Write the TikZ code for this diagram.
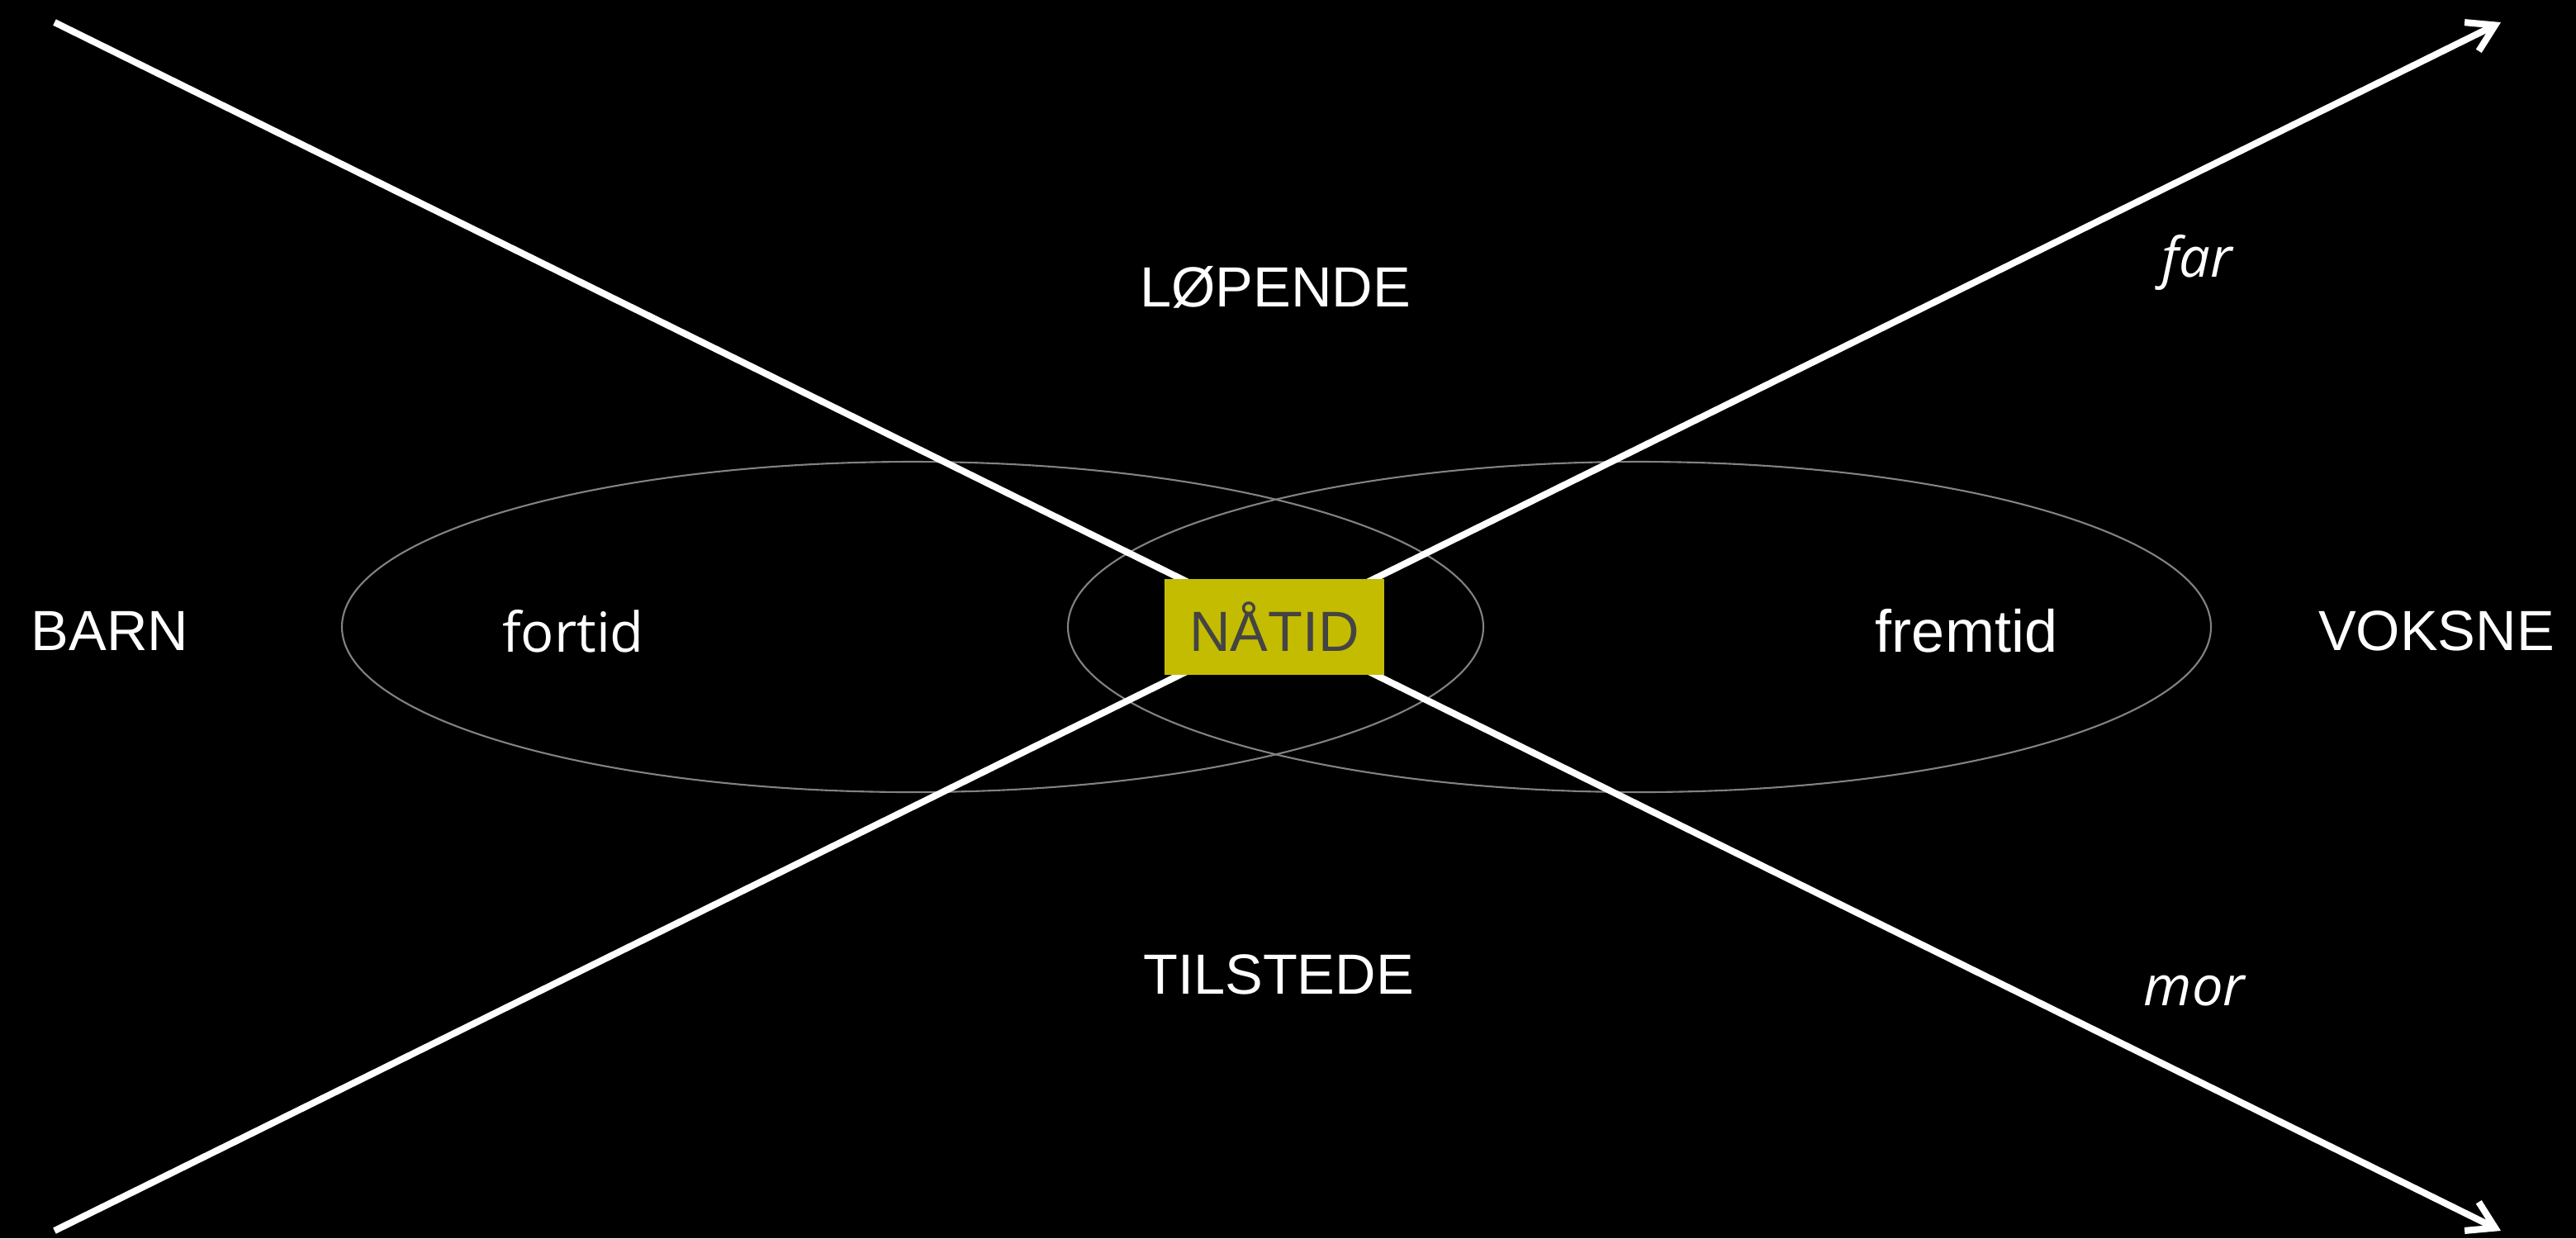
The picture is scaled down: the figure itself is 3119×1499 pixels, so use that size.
\documentclass[tikz,border=0pt]{standalone}
\usepackage{fontspec}
\setmainfont{Liberation Sans}
\newfontfamily\humfont{Open Sans}
\usetikzlibrary{arrows.meta}
\definecolor{boxyellow}{RGB}{196,188,0}
\definecolor{boxtext}{RGB}{68,68,68}
\definecolor{ringgray}{RGB}{130,130,130}
\tikzset{
  axisline/.style={draw=white, line width=2.3pt},
  axisarrow/.style={axisline, -{Straight Barb[length=9pt,width=11pt]}},
  ring/.style={draw=ringgray, line width=0.6pt},
  lbl/.style={text=white, font=\fontsize{19.5}{23}\selectfont, inner sep=0pt},
  flbl/.style={text=white, font=\fontsize{20.5}{24}\selectfont, inner sep=0pt},
  hlbl/.style={text=white, font=\humfont\fontsize{19}{23}\selectfont, inner sep=0pt},
  ilbl/.style={text=white, font=\humfont\itshape\fontsize{19}{23}\selectfont, inner sep=0pt},
  nowbox/.style={fill=boxyellow, text=boxtext, minimum width=266*0.01cm, minimum height=116*0.01cm, inner sep=0pt, font=\fontsize{19.5}{23}\selectfont}
}
\begin{document}
\begin{tikzpicture}[x=0.01cm, y=-0.01cm]
\fill[black] (0,0) rectangle (3119,1499);
\useasboundingbox (0,0) rectangle (3119,1499);
% ellipses
\draw[ring] (1105,759) ellipse [x radius=691, y radius=200];
\draw[ring] (1985,759) ellipse [x radius=692, y radius=200];
% axes
\coordinate (tl) at (66,27);
\coordinate (bl) at (66,1490);
\coordinate (tr) at (3028,27);
\coordinate (br) at (3028,1490);
\draw[axisarrow] (tl) -- (br);
\draw[axisarrow] (bl) -- (tr);
% centre box
\node[nowbox] (now) at (1543,759) {NÅTID};
% labels
\node[lbl] (lopende) at (1544,348) {LØPENDE};
\node[lbl] (tilstede) at (1548,1180) {TILSTEDE};
\node[lbl] (barn) at (133,764) {BARN};
\node[lbl] (voksne) at (2950,764) {VOKSNE};
\node[hlbl] (fortid) at (694,764) {fortid};
\node[flbl] (fremtid) at (2381,764) {fremtid};
\node[ilbl] (far) at (2660,318) {far};
\node[ilbl] (mor) at (2657,1200) {mor};
\end{tikzpicture}
\end{document}
